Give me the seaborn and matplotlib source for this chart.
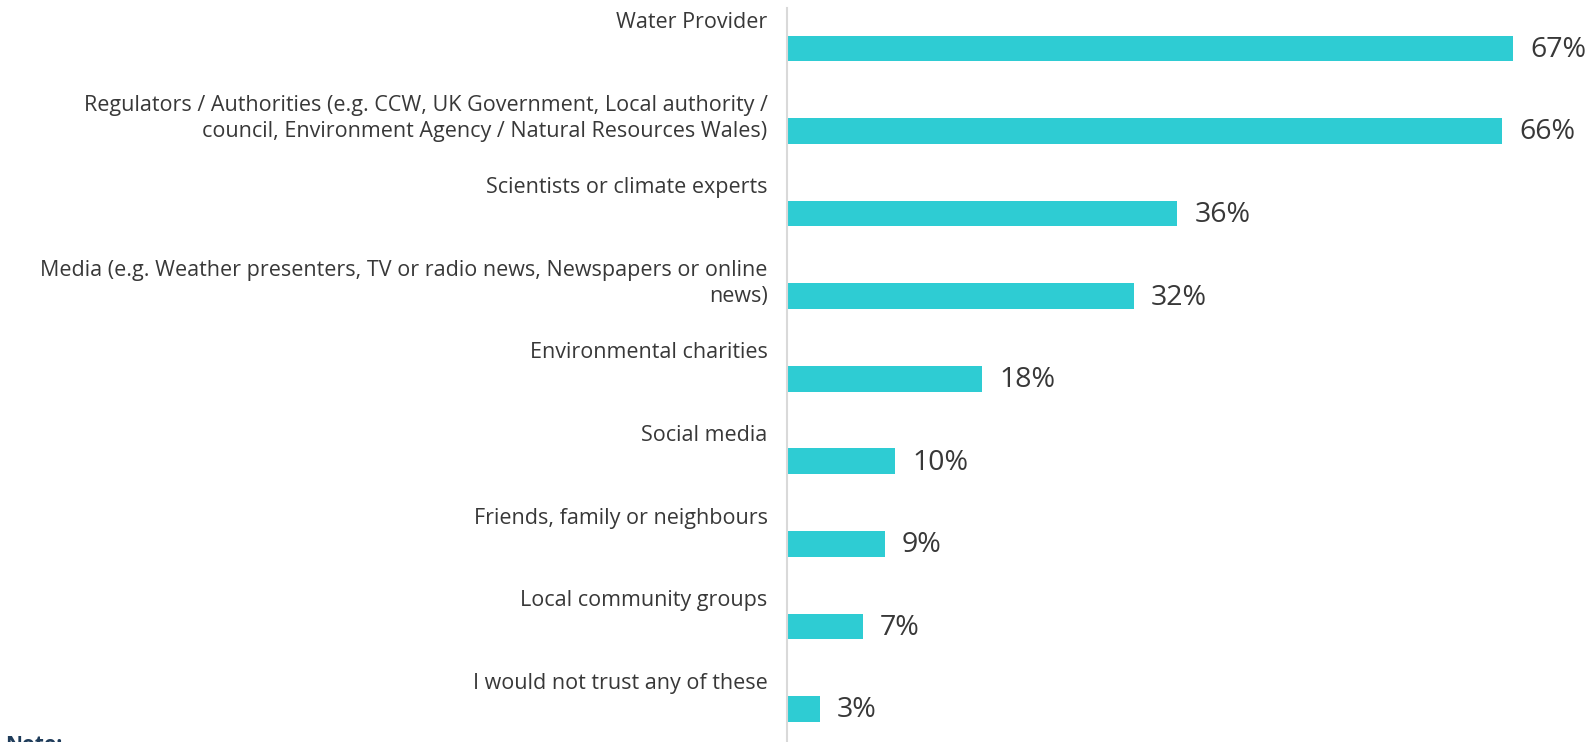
import numpy as np
import pandas as pd
import matplotlib
matplotlib.use('Agg')
import matplotlib.pyplot as plt
import seaborn as sns

# ── Data ──
categories = [
    'Water Provider',
    'Regulators / Authorities (e.g. CCW, UK Government, Local authority /\ncouncil, Environment Agency / Natural Resources Wales)',
    'Scientists or climate experts',
    'Media (e.g. Weather presenters, TV or radio news, Newspapers or online\nnews)',
    'Environmental charities',
    'Social media',
    'Friends, family or neighbours',
    'Local community groups',
    'I would not trust any of these',
]
values = [67, 66, 36, 32, 18, 10, 9, 7, 3]

BAR_COLOR = '#2ECCD3'
TEXT_COLOR = '#383838'

df = pd.DataFrame({'category': categories, 'value': values})

sns.set_theme(style='white')
plt.rcParams['font.family'] = ['Open Sans', 'DejaVu Sans']

W, H = 1590, 742
fig = plt.figure(figsize=(W / 100, H / 100), dpi=100)
ax = fig.add_axes([787 / W, 0, 1 - 787 / W, 1 - 8 / H])

sns.barplot(data=df, x='value', y='category', orient='h', color=BAR_COLOR,
            width=0.31, saturation=1, ax=ax, edgecolor='none')

ax.set_xlim(0, 74.1)
ax.set_ylim(8.4, -0.49)
ax.set_xlabel('')
ax.set_ylabel('')
ax.set_xticks([])
ax.set_yticks([])
for side in ['top', 'right', 'bottom']:
    ax.spines[side].set_visible(False)
ax.spines['left'].set_color('#D9D9D9')
ax.spines['left'].set_linewidth(1.5)

# category labels sit above-left of each bar
for i, (cat, v) in enumerate(zip(categories, values)):
    ax.annotate(cat, xy=(0, i - 0.44), xytext=(-14, 0), textcoords='offset points',
                ha='right', va='top', fontsize=15.5, color=TEXT_COLOR,
                linespacing=1.35, annotation_clip=False)
    ax.annotate(f'{v}%', xy=(v, i), xytext=(12.5, -1), textcoords='offset points',
                ha='left', va='center', fontsize=20.5, color=TEXT_COLOR,
                annotation_clip=False)

fig.text(5 / W, 7 / H, 'Note:', ha='left', va='top', fontsize=15,
         color='#1F3C5A', fontweight='bold')

fig.savefig('out.png', dpi=100)
